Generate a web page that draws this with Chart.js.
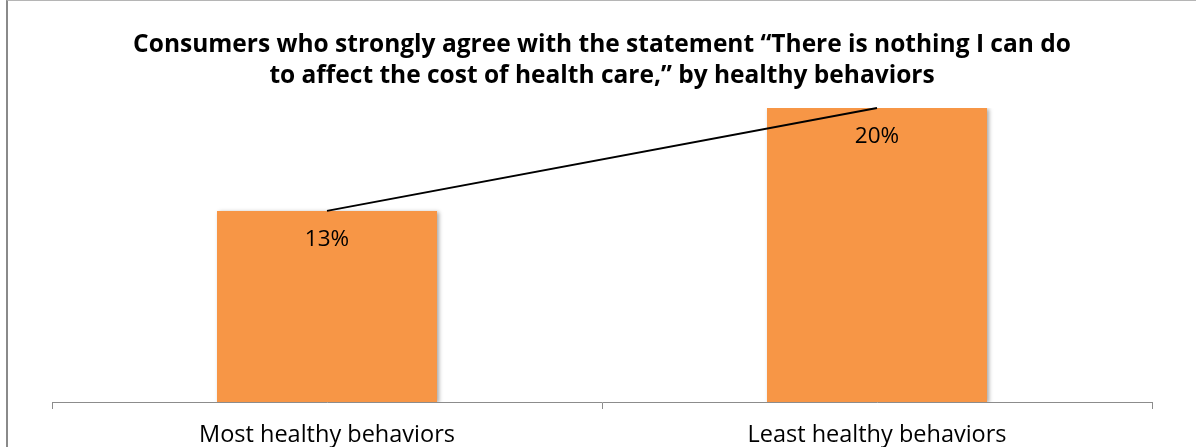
<!DOCTYPE html>
<html>
<head>
<meta charset="utf-8">
<script src="https://cdn.jsdelivr.net/npm/chart.js@4/dist/chart.umd.min.js"></script>
<style>
  html, body { margin: 0; padding: 0; background: #fff; }
  #wrap { position: relative; width: 1196px; height: 447px; }
  #frame { position: absolute; left: 6px; top: 0; width: 1190px; height: 447px;
           border-left: 2px solid #8a8a8a; border-top: 1px solid #b5b5b5; box-sizing: border-box; }
  #chart { position: absolute; left: 0; top: 0; }
</style>
</head>
<body>
<div id="wrap">
  <div id="frame"></div>
  <canvas id="chart" width="1196" height="447"></canvas>
</div>
<script>
const titleLines = [
  'Consumers who strongly agree with the statement \u201cThere is nothing I can do',
  'to affect the cost of health care,\u201d by healthy behaviors'
];
const categories = ['Most healthy behaviors', 'Least healthy behaviors'];
const shares = [0.13, 0.20];
const yMin = 0;
const yMax = 0.20;

const FONT = "'Open Sans', 'Liberation Sans', sans-serif";

// soft drop shadow under the bars, value labels drawn inside each bar
const barExtras = {
  id: 'barExtras',
  beforeDatasetDraw(chart, args) {
    if (args.index !== 0) return;
    const ctx = chart.ctx;
    ctx.save();
    ctx.shadowColor = 'rgba(0,0,0,0.35)';
    ctx.shadowBlur = 4;
    ctx.shadowOffsetX = 2;
    ctx.shadowOffsetY = 1;
  },
  afterDatasetDraw(chart, args) {
    if (args.index !== 0) return;
    const ctx = chart.ctx;
    ctx.restore();
    ctx.save();
    ctx.fillStyle = '#000';
    ctx.font = `22.5px ${FONT}`;
    ctx.textAlign = 'center';
    ctx.textBaseline = 'middle';
    args.meta.data.forEach((bar, i) => {
      ctx.fillText(Math.round(shares[i] * 100) + '%', bar.x, bar.y + 29);
    });
    ctx.restore();
  }
};

new Chart(document.getElementById('chart'), {
  type: 'bar',
  data: {
    labels: categories,
    datasets: [
      {
        type: 'bar',
        data: shares,
        backgroundColor: '#F79646',
        borderWidth: 0,
        barPercentage: 0.4,
        categoryPercentage: 1.0,
        order: 2
      },
      {
        type: 'line',
        data: shares,
        borderColor: '#000',
        borderWidth: 2,
        pointRadius: 0,
        fill: false,
        tension: 0,
        clip: false,
        order: 1
      }
    ]
  },
  options: {
    responsive: false,
    animation: false,
    layout: { padding: { left: 52, right: 44, top: 0, bottom: 0 } },
    plugins: {
      legend: { display: false },
      tooltip: { enabled: false },
      title: {
        display: true,
        text: titleLines,
        color: '#000',
        font: { family: FONT, size: 24.5, weight: 'bold', lineHeight: 1.265 },
        padding: { top: 30, bottom: 16 }
      }
    },
    scales: {
      x: {
        afterFit(scale) { scale.height = 45; },
        grid: {
          display: true,
          offset: true,
          drawOnChartArea: false,
          drawTicks: true,
          tickLength: 7,
          color: '#8c8c8c',
          lineWidth: 1
        },
        border: { display: true, color: '#8c8c8c', width: 1 },
        ticks: {
          color: '#000',
          font: { family: FONT, size: 23.5, lineHeight: 1.2 },
          padding: 12
        }
      },
      y: {
        display: false,
        min: yMin,
        max: yMax
      }
    }
  },
  plugins: [barExtras]
});
</script>
</body>
</html>
